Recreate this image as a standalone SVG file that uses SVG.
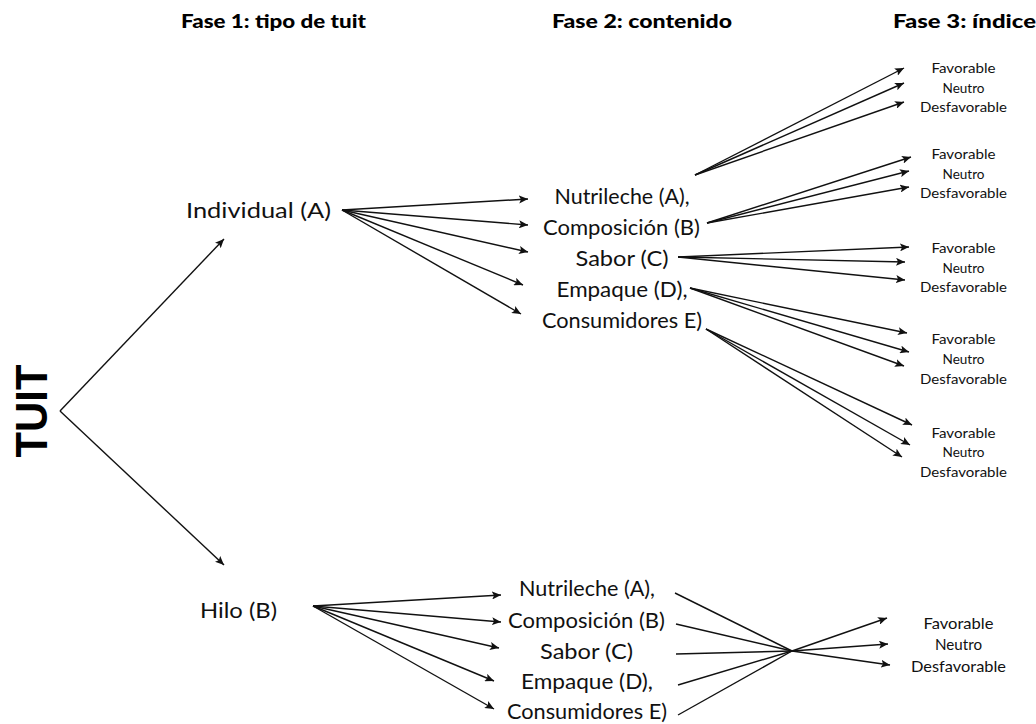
<svg xmlns="http://www.w3.org/2000/svg" width="1036" height="724" viewBox="0 0 1036 724">
<style>
.h{font-family:Lato,"Open Sans",sans-serif;font-weight:900;font-size:18px;fill:#000}
.t{font-family:Lato,"Open Sans",sans-serif;font-size:22px;fill:#111}
.s{font-family:Lato,"Open Sans",sans-serif;font-size:14px;fill:#111}
.s2{font-family:Lato,"Open Sans",sans-serif;font-size:15px;fill:#111}
.c{stroke:#111;stroke-width:1.4;fill:none}
.a{marker-end:url(#ah)}
text{text-anchor:middle;dominant-baseline:central}
</style>
<defs>
<marker id="ah" markerUnits="userSpaceOnUse" markerWidth="10" markerHeight="8" refX="9" refY="4" orient="auto">
<path d="M0,0 L9,4 L0,8 L2,4 z" fill="#111"/>
</marker>
</defs>
<rect width="1036" height="724" fill="#fff"/>
<g id="headers">
<text class="h" x="273.5" y="21" textLength="185" lengthAdjust="spacingAndGlyphs">Fase 1: tipo de tuit</text>
<text class="h" x="642" y="21" textLength="180" lengthAdjust="spacingAndGlyphs">Fase 2: contenido</text>
<text class="h" x="964.5" y="21" textLength="143" lengthAdjust="spacingAndGlyphs">Fase 3: índice</text>
</g>
<g id="tuit"><text x="31" y="411" transform="rotate(-90 31 411)" style="font-family:'Liberation Sans',Arial,sans-serif;font-weight:900;font-size:45px;fill:#000" textLength="93" lengthAdjust="spacingAndGlyphs">TUIT</text></g>
<g id="individual"><text class="t" x="258.5" y="209" textLength="145" lengthAdjust="spacingAndGlyphs">Individual (A)</text></g>
<g id="hilo"><text class="t" x="238.5" y="609" textLength="77" lengthAdjust="spacingAndGlyphs">Hilo (B)</text></g>
<g id="contenido-a">
<text class="t" x="622" y="195" textLength="135" lengthAdjust="spacingAndGlyphs">Nutrileche (A),</text>
<text class="t" x="621.5" y="226" textLength="157" lengthAdjust="spacingAndGlyphs">Composición (B)</text>
<text class="t" x="622" y="257" textLength="93" lengthAdjust="spacingAndGlyphs">Sabor (C)</text>
<text class="t" x="622" y="288" textLength="131" lengthAdjust="spacingAndGlyphs">Empaque (D),</text>
<text class="t" x="622" y="319" textLength="160" lengthAdjust="spacingAndGlyphs">Consumidores E)</text>
</g>
<g id="contenido-b">
<text class="t" x="587" y="587" textLength="136" lengthAdjust="spacingAndGlyphs">Nutrileche (A),</text>
<text class="t" x="586.5" y="619" textLength="157" lengthAdjust="spacingAndGlyphs">Composición (B)</text>
<text class="t" x="586.5" y="650" textLength="93" lengthAdjust="spacingAndGlyphs">Sabor (C)</text>
<text class="t" x="587" y="680" textLength="132" lengthAdjust="spacingAndGlyphs">Empaque (D),</text>
<text class="t" x="587" y="710" textLength="160" lengthAdjust="spacingAndGlyphs">Consumidores E)</text>
</g>
<g id="indice-1"><text class="s" x="963.5" y="67" textLength="64" lengthAdjust="spacingAndGlyphs">Favorable</text><text class="s" x="963.5" y="87" textLength="42" lengthAdjust="spacingAndGlyphs">Neutro</text><text class="s" x="963.5" y="106" textLength="87" lengthAdjust="spacingAndGlyphs">Desfavorable</text></g>
<g id="indice-2"><text class="s" x="963.5" y="153" textLength="64" lengthAdjust="spacingAndGlyphs">Favorable</text><text class="s" x="963.5" y="173" textLength="42" lengthAdjust="spacingAndGlyphs">Neutro</text><text class="s" x="963.5" y="192" textLength="87" lengthAdjust="spacingAndGlyphs">Desfavorable</text></g>
<g id="indice-3"><text class="s" x="963.5" y="247" textLength="64" lengthAdjust="spacingAndGlyphs">Favorable</text><text class="s" x="963.5" y="267" textLength="42" lengthAdjust="spacingAndGlyphs">Neutro</text><text class="s" x="963.5" y="286" textLength="87" lengthAdjust="spacingAndGlyphs">Desfavorable</text></g>
<g id="indice-4"><text class="s" x="963.5" y="338" textLength="64" lengthAdjust="spacingAndGlyphs">Favorable</text><text class="s" x="963.5" y="358" textLength="42" lengthAdjust="spacingAndGlyphs">Neutro</text><text class="s" x="963.5" y="378" textLength="87" lengthAdjust="spacingAndGlyphs">Desfavorable</text></g>
<g id="indice-5"><text class="s" x="963.5" y="432" textLength="64" lengthAdjust="spacingAndGlyphs">Favorable</text><text class="s" x="963.5" y="451" textLength="42" lengthAdjust="spacingAndGlyphs">Neutro</text><text class="s" x="963.5" y="471" textLength="87" lengthAdjust="spacingAndGlyphs">Desfavorable</text></g>
<g id="indice-b"><text class="s2" x="958.5" y="623" textLength="70" lengthAdjust="spacingAndGlyphs">Favorable</text><text class="s2" x="958.5" y="644" textLength="47" lengthAdjust="spacingAndGlyphs">Neutro</text><text class="s2" x="958.5" y="666" textLength="95" lengthAdjust="spacingAndGlyphs">Desfavorable</text></g>
<g id="connectors">
<path class="c a" d="M60,411 L224,239"/>
<path class="c a" d="M60,411 L224,565"/>
<path class="c a" d="M342,210 L528,199"/>
<path class="c a" d="M342,210 L528,225"/>
<path class="c a" d="M342,210 L528,252"/>
<path class="c a" d="M342,210 L523,285"/>
<path class="c a" d="M342,210 L521,314"/>
<path class="c a" d="M695,175 L904,68"/>
<path class="c a" d="M695,175 L904,83"/>
<path class="c a" d="M695,175 L904,102"/>
<path class="c a" d="M707,223 L911,157"/>
<path class="c a" d="M707,223 L909,171"/>
<path class="c a" d="M707,223 L909,187"/>
<path class="c a" d="M678,257 L909,247"/>
<path class="c a" d="M678,257 L905,262"/>
<path class="c a" d="M678,257 L905,280"/>
<path class="c a" d="M690,288 L907,333"/>
<path class="c a" d="M690,288 L909,352"/>
<path class="c a" d="M690,288 L904,366"/>
<path class="c a" d="M706,329 L912,425"/>
<path class="c a" d="M706,329 L910,445"/>
<path class="c a" d="M706,329 L902,457"/>
<path class="c a" d="M313,606 L501,595"/>
<path class="c a" d="M313,606 L501,622"/>
<path class="c a" d="M313,606 L499,648"/>
<path class="c a" d="M313,606 L494,681"/>
<path class="c a" d="M313,606 L494,709"/>
<path class="c" d="M675,593 L792,651"/>
<path class="c" d="M676,624 L792,651"/>
<path class="c" d="M676,654 L792,651"/>
<path class="c" d="M678,685 L792,651"/>
<path class="c" d="M678,715 L792,651"/>
<path class="c a" d="M792,651 L887,618"/>
<path class="c a" d="M792,651 L888,644"/>
<path class="c a" d="M792,651 L890,665"/>
</g>
</svg>
